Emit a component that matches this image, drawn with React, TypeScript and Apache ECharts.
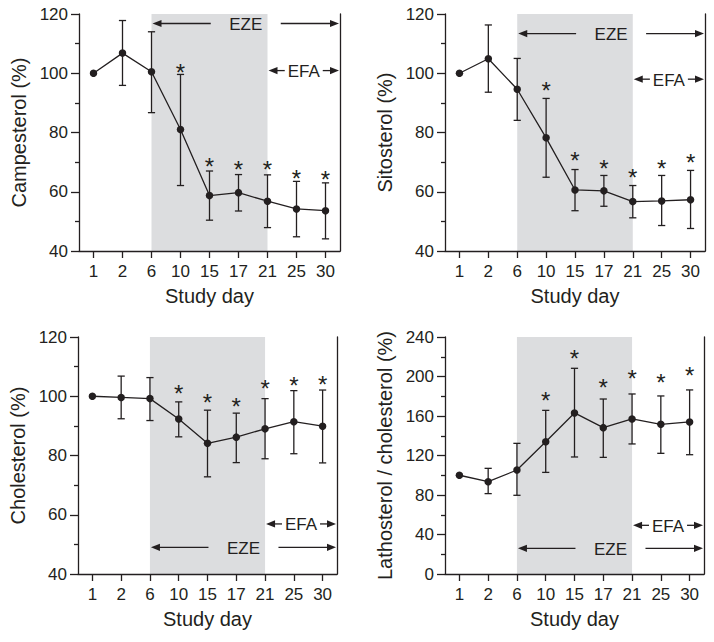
import React, { useEffect, useRef } from "react";
import * as echarts from "echarts";

// ---------- data ----------
const days = ["1", "2", "6", "10", "15", "17", "21", "25", "30"];

const campMean = [100, 106.8, 100.5, 81.0, 58.7, 59.7, 56.8, 54.2, 53.6];
const campHigh = [null, 117.8, 114.0, 99.6, 67.0, 65.8, 65.7, 63.5, 63.0];
const campLow = [null, 95.9, 86.7, 62.1, 50.4, 53.5, 47.9, 44.8, 44.1];
const campStar = [null, null, null, 102.2, 70.7, 69.6, 69.4, 66.6, 66.0];

const sitoMean = [100, 104.9, 94.6, 78.2, 60.6, 60.3, 56.7, 56.9, 57.3];
const sitoHigh = [null, 116.3, 105.0, 91.5, 67.5, 65.5, 62.1, 65.5, 67.2];
const sitoLow = [null, 93.6, 84.1, 64.9, 53.6, 55.1, 51.2, 48.6, 47.6];
const sitoStar = [null, null, null, 96.3, 72.5, 69.9, 66.7, 69.9, 72.0];

const cholMean = [100, 99.6, 99.2, 92.3, 84.1, 86.2, 89.0, 91.4, 89.9];
const cholHigh = [null, 106.8, 106.3, 98.1, 95.3, 94.3, 99.2, 101.9, 102.1];
const cholLow = [null, 92.4, 91.8, 86.3, 72.8, 77.6, 78.9, 80.6, 77.5];
const cholStar = [null, null, null, 102.8, 99.9, 98.6, 104.5, 105.6, 106.1];

const lathMean = [100, 93.5, 105.3, 134.0, 163.1, 148.2, 157.0, 151.6, 154.0];
const lathHigh = [null, 107.0, 132.3, 165.7, 208.3, 177.2, 182.3, 180.3, 186.4];
const lathLow = [null, 81.4, 79.7, 102.9, 118.5, 118.1, 131.7, 122.2, 120.8];
const lathStar = [null, null, null, 181.6, 223.8, 195.1, 204.2, 200.2, 206.9];

// treatment phases: label, first study day
const phaseLabels = ["EZE", "EFA"];
const phaseStart = ["6", "21"];
const shadeRange = ["6", "21"];

// y-levels of the phase arrows (EZE, EFA) per panel
const campPhaseLevel = [116.8, 100.9];
const sitoPhaseLevel = [113.4, 98.0];
const cholPhaseLevel = [49.0, 56.9];
const lathPhaseLevel = [26.0, 49.3];

const yTitles = ["Campesterol (%)", "Sitosterol (%)", "Cholesterol (%)", "Lathosterol / cholesterol (%)"];
const yMin = [40, 40, 40, 0];
const yMax = [120, 120, 120, 240];
const yInterval = [20, 20, 20, 40];
const xTitle = "Study day";

// ---------- styling ----------
const FONT = "'Liberation Sans', Arial, Helvetica, sans-serif";
const INK = "#231f20";
const SHADE = "#dcdddf";
const GRIDS = [
  { left: 79, top: 14, width: 261, height: 237 },
  { left: 445, top: 14, width: 260, height: 237 },
  { left: 78, top: 337, width: 259, height: 237 },
  { left: 445, top: 337, width: 259, height: 237 },
];
const PHASE_GAP = [35, 19];

const panels = [
  { mean: campMean, low: campLow, high: campHigh, star: campStar, levels: campPhaseLevel },
  { mean: sitoMean, low: sitoLow, high: sitoHigh, star: sitoStar, levels: sitoPhaseLevel },
  { mean: cholMean, low: cholLow, high: cholHigh, star: cholStar, levels: cholPhaseLevel },
  { mean: lathMean, low: lathLow, high: lathHigh, star: lathStar, levels: lathPhaseLevel },
];

function buildOption() {
  const grid: any[] = [];
  const xAxis: any[] = [];
  const yAxis: any[] = [];
  const series: any[] = [];

  panels.forEach((p, i) => {
    grid.push({ ...GRIDS[i], containLabel: false });
    xAxis.push({
      type: "category",
      gridIndex: i,
      data: days,
      boundaryGap: true,
      z: 10,
      axisLine: { show: true, lineStyle: { color: INK, width: 1.3 } },
      axisTick: { show: true, alignWithLabel: true, length: 7, lineStyle: { color: INK, width: 1.3 } },
      axisLabel: { color: INK, fontSize: 17, fontFamily: FONT, margin: 12, interval: 0 },
      splitLine: { show: false },
      name: xTitle,
      nameLocation: "middle",
      nameGap: 35,
      nameTextStyle: { color: INK, fontSize: 20, fontFamily: FONT },
    });
    yAxis.push({
      type: "value",
      gridIndex: i,
      min: yMin[i],
      max: yMax[i],
      interval: yInterval[i],
      z: 10,
      axisLine: { show: true, lineStyle: { color: INK, width: 1.3 } },
      axisTick: { show: true, length: 8, lineStyle: { color: INK, width: 1.3 } },
      minorTick: { show: true, splitNumber: 2, length: 4, lineStyle: { color: INK, width: 1.3 } },
      axisLabel: { color: INK, fontSize: 17, fontFamily: FONT, margin: 11 },
      splitLine: { show: false },
      minorSplitLine: { show: false },
      name: yTitles[i],
      nameLocation: "middle",
      nameGap: 50,
      nameRotate: 90,
      nameTextStyle: { color: INK, fontSize: 20, fontFamily: FONT },
    });
    yAxis.push({
      type: "value",
      gridIndex: i,
      position: "right",
      min: yMin[i],
      max: yMax[i],
      interval: yInterval[i],
      z: 10,
      axisLine: { show: true, lineStyle: { color: INK, width: 1.3 } },
      axisTick: { show: false },
      axisLabel: { show: false },
      splitLine: { show: false },
    });
    const yIdx = i * 2;

    // shaded treatment period
    series.push({
      type: "custom",
      xAxisIndex: i,
      yAxisIndex: yIdx,
      z: 1,
      silent: true,
      data: [[days.indexOf(shadeRange[0]), days.indexOf(shadeRange[1])]],
      renderItem: (params: any, api: any) => {
        const a = api.coord([api.value(0), yMax[i]]);
        const b = api.coord([api.value(1), yMin[i]]);
        return {
          type: "rect",
          shape: { x: a[0], y: a[1], width: b[0] - a[0], height: b[1] - a[1] },
          style: { fill: SHADE },
        };
      },
    });

    // phase arrows
    series.push({
      type: "custom",
      xAxisIndex: i,
      yAxisIndex: yIdx,
      z: 2,
      silent: true,
      data: phaseLabels.map((_, k) => [days.indexOf(phaseStart[k]), p.levels[k], k]),
      renderItem: (params: any, api: any) => {
        const k = api.value(2);
        const pt = api.coord([api.value(0), api.value(1)]);
        const bw = api.size([1, 0])[0];
        const endX = api.coord([days.length - 1, api.value(1)])[0] + bw / 2 - 1;
        const x0 = pt[0] + 1;
        const y = pt[1];
        const cx = (x0 + endX) / 2;
        const gap = PHASE_GAP[k];
        const head = 9;
        const hw = 3.6;
        const stroke = { stroke: INK, lineWidth: 1.3 };
        return {
          type: "group",
          children: [
            { type: "line", shape: { x1: x0 + head - 1, y1: y, x2: cx - gap, y2: y }, style: stroke },
            { type: "polygon", shape: { points: [[x0, y], [x0 + head, y - hw], [x0 + head, y + hw]] }, style: { fill: INK } },
            { type: "line", shape: { x1: cx + gap, y1: y, x2: endX - head + 1, y2: y }, style: stroke },
            { type: "polygon", shape: { points: [[endX, y], [endX - head, y - hw], [endX - head, y + hw]] }, style: { fill: INK } },
            {
              type: "text",
              style: {
                text: phaseLabels[k],
                x: cx,
                y: y + 1,
                align: "center",
                verticalAlign: "middle",
                fontSize: 17,
                fontFamily: FONT,
                fill: INK,
              },
            },
          ],
        };
      },
    });

    // error bars
    const ebData: any[] = [];
    p.mean.forEach((_, j) => {
      if (p.low[j] != null && p.high[j] != null) ebData.push([j, p.low[j], p.high[j]]);
    });
    series.push({
      type: "custom",
      xAxisIndex: i,
      yAxisIndex: yIdx,
      z: 3,
      silent: true,
      data: ebData,
      renderItem: (params: any, api: any) => {
        const lo = api.coord([api.value(0), api.value(1)]);
        const hi = api.coord([api.value(0), api.value(2)]);
        const cw = 3.6;
        const st = { stroke: INK, lineWidth: 1.3 };
        return {
          type: "group",
          children: [
            { type: "line", shape: { x1: lo[0], y1: lo[1], x2: hi[0], y2: hi[1] }, style: st },
            { type: "line", shape: { x1: lo[0] - cw, y1: lo[1], x2: lo[0] + cw, y2: lo[1] }, style: st },
            { type: "line", shape: { x1: hi[0] - cw, y1: hi[1], x2: hi[0] + cw, y2: hi[1] }, style: st },
          ],
        };
      },
    });

    // mean line
    series.push({
      type: "line",
      xAxisIndex: i,
      yAxisIndex: yIdx,
      z: 4,
      data: p.mean,
      symbol: "circle",
      symbolSize: 7.5,
      itemStyle: { color: INK },
      lineStyle: { color: INK, width: 1.3 },
      silent: true,
    });

    // significance stars
    const starData: any[] = [];
    p.star.forEach((v, j) => {
      if (v != null) starData.push([j, v]);
    });
    series.push({
      type: "custom",
      xAxisIndex: i,
      yAxisIndex: yIdx,
      z: 4,
      silent: true,
      data: starData,
      renderItem: (params: any, api: any) => {
        const c = api.coord([api.value(0), api.value(1)]);
        return {
          type: "text",
          style: {
            text: "*",
            x: c[0],
            y: c[1] + 6,
            align: "center",
            verticalAlign: "middle",
            fontSize: 24,
            fontFamily: FONT,
            fill: INK,
          },
        };
      },
    });
  });

  return {
    animation: false,
    backgroundColor: "#ffffff",
    grid,
    xAxis,
    yAxis,
    series,
  };
}

export default function App() {
  const ref = useRef<HTMLDivElement>(null);
  useEffect(() => {
    if (!ref.current) return;
    const chart = echarts.init(ref.current, undefined, { renderer: "svg" });
    chart.setOption(buildOption() as any);
    return () => chart.dispose();
  }, []);
  return (
    <div
      ref={ref}
      style={{ position: "absolute", left: 0, top: 0, width: 714, height: 642, background: "#fff" }}
    />
  );
}
